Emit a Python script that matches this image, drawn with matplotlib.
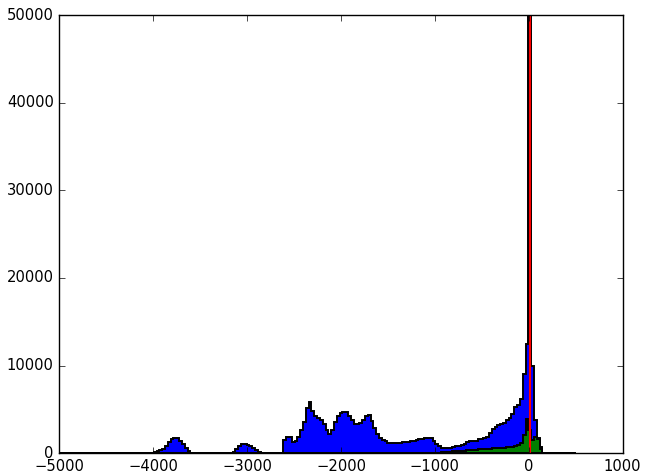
import numpy as np
import matplotlib
matplotlib.use("Agg")
import matplotlib.pyplot as plt

# Bin edges of the histogram (width 30)
bin_edges = np.arange(-5015, 506, 30)

# Counts per bin (184 bins, 10 per row)
blue_counts = [
    0, 0, 0, 0, 0, 0, 0, 0, 0, 0,
    0, 0, 0, 0, 0, 0, 0, 0, 0, 0,
    0, 0, 0, 0, 0, 0, 0, 0, 0, 0,
    0, 0, 0, 0, 150, 250, 350, 500, 800, 1250,
    1650, 1800, 1700, 1450, 1050, 600, 250, 80, 0, 0,
    0, 0, 0, 0, 0, 0, 0, 0, 0, 0,
    0, 0, 150, 450, 800, 1050, 1100, 1000, 800, 550,
    350, 200, 80, 0, 0, 0, 0, 0, 0, 0,
    1500, 1900, 1850, 1300, 1450, 1900, 2700, 3600, 5200, 5900,
    4800, 4200, 4050, 3800, 3400, 2700, 2200, 2700, 3600, 4300,
    4650, 4750, 4700, 4300, 3800, 3350, 3300, 3450, 3800, 4250,
    4400, 3700, 2900, 2200, 1800, 1500, 1350, 1200, 1150, 1150,
    1200, 1200, 1250, 1250, 1300, 1400, 1450, 1550, 1600, 1650,
    1700, 1700, 1700, 1450, 1050, 800, 650, 580, 600, 640,
    700, 780, 870, 950, 1100, 1250, 1400, 1380, 1420, 1600,
    1650, 1700, 1900, 2300, 2750, 3050, 3250, 3300, 3500, 3800,
    4000, 4500, 5300, 5500, 6200, 9000, 12500, 60000, 10000, 3800,
    1800, 700, 0, 0, 0, 0, 0, 0, 0, 0,
    0, 0, 0, 0,
]

green_counts = [
    0, 0, 0, 0, 0, 0, 0, 0, 0, 0,
    0, 0, 0, 0, 0, 0, 0, 0, 0, 0,
    0, 0, 0, 0, 0, 0, 0, 0, 0, 0,
    0, 0, 0, 0, 0, 0, 0, 0, 0, 0,
    0, 0, 0, 0, 0, 0, 0, 0, 0, 0,
    0, 0, 0, 0, 0, 0, 0, 0, 0, 0,
    0, 0, 0, 0, 0, 0, 0, 0, 0, 0,
    0, 0, 0, 0, 0, 0, 0, 0, 0, 0,
    0, 0, 0, 0, 0, 0, 0, 0, 0, 0,
    0, 0, 0, 0, 0, 0, 0, 0, 0, 0,
    0, 0, 0, 0, 0, 0, 0, 0, 0, 0,
    0, 0, 0, 0, 0, 0, 0, 0, 0, 0,
    0, 0, 0, 0, 0, 0, 0, 0, 0, 0,
    0, 0, 0, 30, 60, 90, 110, 140, 160, 190,
    210, 240, 260, 290, 310, 340, 360, 390, 410, 440,
    460, 490, 510, 540, 560, 590, 610, 630, 650, 670,
    700, 740, 800, 950, 1200, 2100, 3900, 2700, 1500, 1900,
    1600, 500, 0, 0, 0, 0, 0, 0, 0, 0,
    0, 0, 0, 0,
]

red_line_x = 15

centers = (bin_edges[:-1] + bin_edges[1:]) / 2

plt.style.use("classic")
plt.rcParams["font.size"] = 10.6

fig = plt.figure(figsize=(6.45, 4.72), dpi=100, facecolor="white")
ax = fig.add_axes([0.092, 0.0396, 0.8734, 0.9286])

ax.hist(centers, bins=bin_edges, weights=blue_counts, histtype="stepfilled",
        facecolor="b", edgecolor="k", linewidth=1.4)
ax.hist(centers, bins=bin_edges, weights=green_counts, histtype="stepfilled",
        facecolor="g", edgecolor="k", linewidth=1.4)
ax.axvline(red_line_x, color="r", linewidth=1.5)

ax.set_xlim(-5000, 1000)
ax.set_ylim(0, 50000)
ax.set_xticks(np.arange(-5000, 1001, 1000))
ax.set_yticks(np.arange(0, 50001, 10000))

fig.savefig("out.png", dpi=100, facecolor="white")
